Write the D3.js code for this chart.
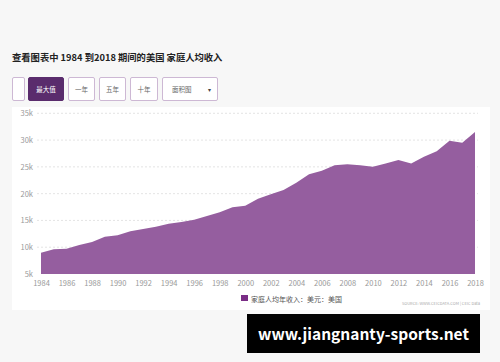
<!DOCTYPE html>
<html>
<head>
<meta charset="utf-8">
<script src="https://cdn.jsdelivr.net/npm/d3@7"></script>
<style>
  body { margin: 0; background: #f7f7f7; }
  svg { display: block; }
  text { font-family: "Noto Sans CJK SC", "Noto Sans", sans-serif; }
</style>
</head>
<body>
<svg id="chart"></svg>
<script>
// values, US$ per household member
const years = [1984, 1985, 1986, 1987, 1988, 1989, 1990, 1991, 1992, 1993, 1994, 1995, 1996, 1997, 1998, 1999, 2000,
  2001, 2002, 2003, 2004, 2005, 2006, 2007, 2008, 2009, 2010, 2011, 2012, 2013, 2014, 2015, 2016, 2017, 2018];
const income = [8970, 9600, 9720, 10400, 10970, 11960, 12220, 12960, 13400, 13830, 14380, 14700, 15130, 15820, 16510, 17440, 17740,
  19050, 19900, 20670, 22030, 23600, 24270, 25280, 25470, 25280, 25020, 25650, 26270, 25650, 26900, 27900, 29880, 29500, 31490];
const yTicks = [5000, 10000, 15000, 20000, 25000, 30000, 35000];
const xTicks = d3.range(1984, 2019, 2);
const buttons = ["", "最大值", "一年", "五年", "十年", "面积图"];

const w = 500, h = 362;
const svg = d3.select("#chart").attr("width", w).attr("height", h);

// title
svg.append("text")
  .attr("x", 12).attr("y", 61)
  .attr("font-size", 9.3).attr("font-weight", "bold").attr("fill", "#222")
  .text("查看图表中 1984 到2018 期间的美国 家庭人均收入");

// range buttons
const btnX = [12, 28, 68, 99, 130, 162];
const btnW = [12, 35, 26, 26, 27, 55];
buttons.forEach((b, i) => {
  const g = svg.append("g").attr("transform", "translate(" + btnX[i] + ",77)");
  g.append("rect")
    .attr("x", 0.5).attr("y", 0.5)
    .attr("width", btnW[i]).attr("height", 23).attr("rx", 1.5)
    .attr("fill", i == 1 ? "#5a2c6d" : "#fff")
    .attr("stroke", i == 1 ? "#5a2c6d" : "#cdb8d4");
  if (i == 5) {
    g.append("text").attr("x", 10).attr("y", 15).attr("font-size", 6.5).attr("fill", "#666").text(b);
    g.append("text").attr("x", 46).attr("y", 15).attr("font-size", 6).attr("fill", "#444").text("▾");
  } else if (b) {
    g.append("text").attr("x", btnW[i] / 2 + 0.5).attr("y", 15).attr("text-anchor", "middle")
      .attr("font-size", 6.5).attr("fill", i == 1 ? "#fff" : "#666").text(b);
  }
});

// chart panel
svg.append("rect").attr("x", 12).attr("y", 107).attr("width", 478).attr("height", 203).attr("fill", "#fff");

const xScale = d3.scaleLinear().domain([1984, 2018]).range([41, 475]);
const yScale = d3.scaleLinear().domain([5000, 35000]).range([274, 113.3]);

// dashed grid
svg.append("g").selectAll("line")
  .data(yTicks.slice(1))
  .enter().append("line")
  .attr("x1", 37).attr("x2", 478)
  .attr("y1", d => yScale(d)).attr("y2", d => yScale(d))
  .attr("stroke", "#ddd").attr("stroke-width", 0.8).attr("stroke-dasharray", "2,2");

const area = d3.area()
  .x((d, i) => xScale(years[i]))
  .y0(yScale(5000))
  .y1(d => yScale(d));

svg.append("path")
  .datum(income)
  .attr("d", area)
  .attr("fill", "#955e9f");

const yAxis = d3.axisLeft(yScale).tickValues(yTicks).tickSize(0).tickPadding(4)
  .tickFormat(d => d / 1000 + "k");
svg.append("g")
  .attr("transform", "translate(37,0)")
  .call(yAxis)
  .call(g => g.select(".domain").remove())
  .selectAll("text").attr("font-size", 7.5).attr("fill", "#999").attr("font-family", "Liberation Sans, sans-serif");

const xAxis = d3.axisBottom(xScale).tickValues(xTicks).tickSize(0).tickPadding(7)
  .tickFormat(d3.format("d"));
svg.append("g")
  .attr("transform", "translate(0,274)")
  .call(xAxis)
  .call(g => g.select(".domain").remove())
  .selectAll("text").attr("font-size", 7.5).attr("fill", "#999").attr("font-family", "Liberation Sans, sans-serif");

// legend
svg.append("rect").attr("x", 241).attr("y", 295).attr("width", 7).attr("height", 6).attr("fill", "#7a2d86");
svg.append("text").attr("x", 251).attr("y", 301.5).attr("font-size", 7).attr("fill", "#555")
  .text("家庭人均年收入：美元：美国");
svg.append("text").attr("x", 480).attr("y", 305).attr("text-anchor", "end")
  .attr("font-size", 4).attr("fill", "#aaa").attr("font-family", "Liberation Sans, sans-serif")
  .text("SOURCE: WWW.CEICDATA.COM | CEIC Data");

// watermark banner
svg.append("rect").attr("x", 247).attr("y", 314).attr("width", 233).attr("height", 39).attr("fill", "#000");
svg.append("text").attr("x", 363.5).attr("y", 339.5).attr("text-anchor", "middle")
  .attr("font-size", 15.5).attr("font-weight", "bold").attr("fill", "#fff")
  .attr("font-family", "DejaVu Sans, sans-serif")
  .text("www.jiangnanty-sports.net");
</script>
</body>
</html>
